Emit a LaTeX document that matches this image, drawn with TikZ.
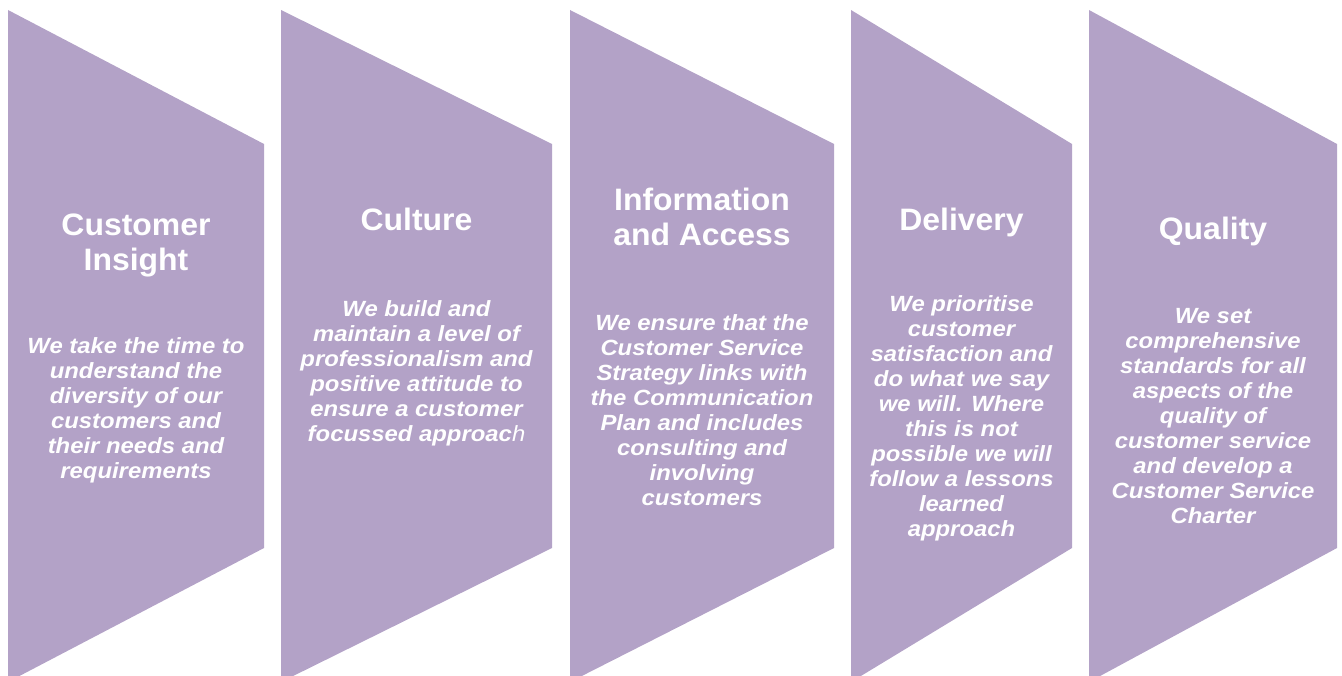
\documentclass[tikz,border=0pt]{standalone}
\usepackage{fontspec}
\setmainfont{Liberation Sans}
\newfontfamily\headfont[FakeStretch=1.03]{Liberation Sans}
\newfontfamily\blurbfont[FakeStretch=1.085]{Liberation Sans}
\usepackage{tikz}
\definecolor{lavender}{RGB}{179,162,199}

\begin{document}
\begin{tikzpicture}[x=1pt,y=-1pt,
	heading/.style={text=white,font=\headfont\fontsize{31}{35}\selectfont\bfseries,align=center},
	blurb/.style={text=white,font=\blurbfont\fontsize{22}{25}\selectfont\bfseries\itshape,align=center}]
	\useasboundingbox (0,0) rectangle (1342,676);
	\clip (0,0) rectangle (1342,676);
	%\draw[help lines] (0,0) grid[step=100] (1342,676);
	\fill[lavender] (8,10) -- (264,144) -- (264,548) -- (8,682) -- cycle;
	\fill[lavender] (281,10) -- (552,144) -- (552,548) -- (281,682) -- cycle;
	\fill[lavender] (570,10) -- (834,144) -- (834,548) -- (570,682) -- cycle;
	\fill[lavender] (851,10) -- (1072,144) -- (1072,548) -- (851,682) -- cycle;
	\fill[lavender] (1089,10) -- (1337,144) -- (1337,548) -- (1089,682) -- cycle;
	\node[heading] (insight) at (136,245) {Customer\\Insight};
	\node[blurb] (insighttext) at (136,410) {We take the time to\\understand the\\diversity of our\\customers and\\their needs and\\requirements};
	\node[heading] (culture) at (416.5,219) {Culture};
	\node[blurb] (culturetext) at (416.5,373) {We build and\\maintain a level of\\professionalism and\\positive attitude to\\ensure a customer\\focussed approac{\mdseries h}};
	\node[heading] (access) at (702,217) {Information\\and Access};
	\node[blurb] (accesstext) at (702,410) {We ensure that the\\Customer Service\\Strategy links with\\the Communication\\Plan and includes\\consulting and\\involving\\customers};
	\node[heading] (delivery) at (961.5,222) {Delivery};
	\node[blurb] (deliverytext) at (961.5,418) {We prioritise\\customer\\satisfaction and\\do what we say\\we will. Where\\this is not\\possible we will\\follow a lessons\\learned\\approach};
	\node[heading] (quality) at (1213,231) {Quality};
	\node[blurb] (qualitytext) at (1213,416) {We set\\comprehensive\\standards for all\\aspects of the\\quality of\\customer service\\and develop a\\Customer Service\\Charter};
\end{tikzpicture}
\end{document}
